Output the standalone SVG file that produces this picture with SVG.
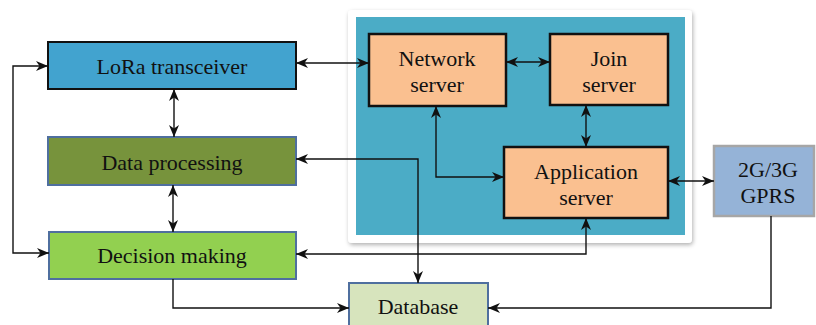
<svg xmlns="http://www.w3.org/2000/svg" width="816" height="325" viewBox="0 0 816 325">
<style>
text{font-family:"Liberation Serif","Times New Roman",serif;font-size:22px;fill:#111;text-anchor:middle}
.c{fill:none;stroke:#111;stroke-width:1.4}
.srv{fill:#fac090;stroke:#111;stroke-width:2.5}
.blu{stroke:#4f6f9f;stroke-width:2}
</style>
<defs>
<marker id="a" viewBox="0 0 12 10" refX="12" refY="5" markerWidth="12" markerHeight="10" markerUnits="userSpaceOnUse" orient="auto-start-reverse">
<path d="M0,0 L12,5 L0,10 L3.5,5 z" fill="#111"/>
</marker>
<filter id="sh" x="-5%" y="-5%" width="112%" height="115%">
<feDropShadow dx="1" dy="2" stdDeviation="2" flood-color="#000" flood-opacity="0.3"/>
</filter>
</defs>
<g id="panel">
<rect x="348" y="10" width="344" height="233" rx="4" fill="#fff" filter="url(#sh)"/>
<rect x="356" y="17" width="329" height="218" fill="#4bacc6"/>
</g>
<g id="lora"><rect x="48" y="42" width="248" height="47" fill="#42a3cf" stroke="#111" stroke-width="2"/><text x="172" y="74">LoRa transceiver</text></g>
<g id="dataproc"><rect x="48" y="137" width="248" height="48" fill="#77933c" class="blu"/><text x="172" y="170">Data processing</text></g>
<g id="decision"><rect x="49" y="232" width="247" height="47" fill="#92d050" class="blu"/><text x="172" y="263">Decision making</text></g>
<g id="network"><rect x="369" y="34" width="137" height="72" class="srv"/><text x="437" y="66">Network</text><text x="437" y="92">server</text></g>
<g id="join"><rect x="550" y="34" width="118" height="71" class="srv"/><text x="609" y="66">Join</text><text x="609" y="92">server</text></g>
<g id="app"><rect x="504" y="147" width="164" height="71" class="srv"/><text x="586" y="179">Application</text><text x="586" y="205">server</text></g>
<g id="gprs"><rect x="714" y="146" width="100" height="70" fill="#95b3d7" stroke="#a6a6a6" stroke-width="2.5"/><text x="768" y="177">2G/3G</text><text x="768" y="203">GPRS</text></g>
<g id="database"><rect x="349" y="283" width="139" height="50" fill="#d7e4bd" class="blu"/><text x="418" y="314">Database</text></g>
<g id="connectors">
<path class="c" d="M48,66 H13 V253 H49" marker-start="url(#a)" marker-end="url(#a)"/>
<path class="c" d="M174,89 V137" marker-start="url(#a)" marker-end="url(#a)"/>
<path class="c" d="M173,185 V232" marker-start="url(#a)" marker-end="url(#a)"/>
<path class="c" d="M173,279 V308 H349" marker-end="url(#a)"/>
<path class="c" d="M296,63 H369" marker-start="url(#a)" marker-end="url(#a)"/>
<path class="c" d="M506,62 H550" marker-start="url(#a)" marker-end="url(#a)"/>
<path class="c" d="M586,105 V147" marker-start="url(#a)" marker-end="url(#a)"/>
<path class="c" d="M436,106 V177 H504" marker-start="url(#a)" marker-end="url(#a)"/>
<path class="c" d="M296,159 H418 V283" marker-start="url(#a)" marker-end="url(#a)"/>
<path class="c" d="M296,254 H586 V218" marker-start="url(#a)" marker-end="url(#a)"/>
<path class="c" d="M668,181 H714" marker-start="url(#a)" marker-end="url(#a)"/>
<path class="c" d="M771,216 V308 H488" marker-end="url(#a)"/>
</g>
</svg>
